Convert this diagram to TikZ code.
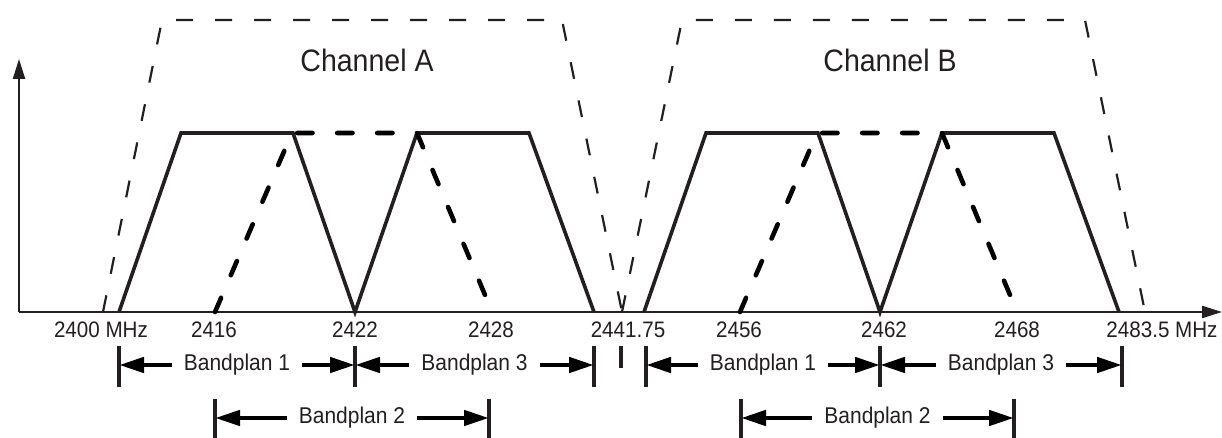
\documentclass[tikz,border=0pt]{standalone}
\usepackage{fontspec}
\setmainfont{Liberation Sans}[FakeStretch=0.92]
\usepackage{tikz}
\usetikzlibrary{arrows.meta}
\definecolor{inkgray}{HTML}{231F20}

\begin{document}
\begin{tikzpicture}[x=0.5pt, y=-0.5pt,
  axis/.style={line width=1.1pt, color=inkgray, -{Triangle[length=10pt, width=6pt]}},
  chan/.style={line width=1.1pt, color=inkgray, dash pattern=on 8.5pt off 11pt},
  band/.style={line width=1.8pt, color=inkgray, line join=miter},
  plan/.style={line width=2.3pt, color=black, line cap=round, dash pattern=on 7.7pt off 12.3pt},
  tickbar/.style={line width=1.6pt, color=inkgray},
  dim/.style={line width=2.3pt, color=black, -{Triangle[length=12.5pt, width=7.5pt]}},
  freq/.style={font=\fontsize{11.2}{13}\selectfont, text=inkgray},
  lbl/.style={font=\fontsize{11.4}{13}\selectfont, text=inkgray, inner xsep=6pt},
  chlbl/.style={font=\fontsize{15.5}{18}\selectfont, text=inkgray}
]
  \useasboundingbox (0,0) rectangle (1222,438);

  % axes
  \draw[axis] (19,312) -- (19,59);
  \draw[axis] (19,312) -- (1222,312);

  % channel masks
  \draw[chan] (103,312) -- (162,20) -- (562,20) -- (622,312);
  \draw[chan] (622,312) -- (682,20) -- (1085,20) -- (1145,312);
  \node[chlbl] (chA) at (367,60) {Channel A};
  \node[chlbl] (chB) at (890,60) {Channel B};

  % bandplans 1 and 3 (solid), bandplan 2 (dashed)
  \foreach \dx in {0,525} {
    \draw[band] ({119+\dx},312) -- ({181+\dx},133) -- ({293+\dx},133) -- ({355+\dx},312)
      -- ({417+\dx},133) -- ({529+\dx},133) -- ({594+\dx},312);
    \draw[plan] ({215+\dx},312) -- ({292+\dx},133) -- ({417+\dx},133) -- ({485+\dx},295);
  }

  % frequency marks
  \foreach \x/\f [count=\i] in {101/2400 MHz, 214/2416, 355/2422, 491/2428,
      628/2441.75, 739/2456, 884/2462, 1017/2468, 1162/2483.5 MHz}
    \node[freq] (f\i) at (\x,330) {\f};

  % tick bars
  \foreach \x in {119,355,594,646,880,1122}
    \draw[tickbar] (\x,346) -- (\x,387);
  \draw[tickbar] (621,346) -- (621,368);
  \foreach \x in {215,489,741,1014}
    \draw[tickbar] (\x,399) -- (\x,438);

  % bandplan spans
  \foreach \l/\r/\y/\t [count=\i] in {119/355/365/1, 355/594/365/3, 646/880/365/1,
      880/1122/365/3, 215/489/418/2, 741/1014/418/2} {
    \node[lbl] (bp\i) at ({(\l+\r)/2},\y) {Bandplan \t};
    \coordinate (bpl\i) at (\l,\y);
    \coordinate (bpr\i) at (\r,\y);
    \draw[dim] (bp\i.west) -- (bpl\i);
    \draw[dim] (bp\i.east) -- (bpr\i);
  }
\end{tikzpicture}
\end{document}
